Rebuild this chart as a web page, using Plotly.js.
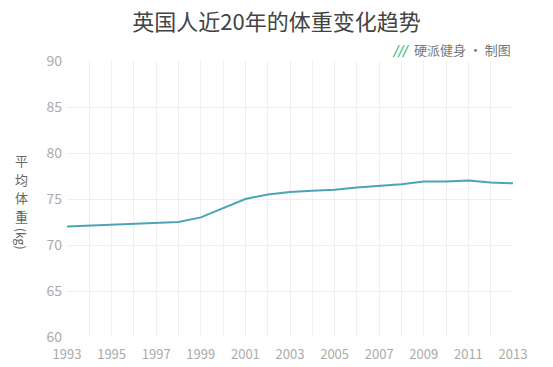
<!DOCTYPE html>
<html><head><meta charset="utf-8">
<script src="https://cdn.plot.ly/plotly-3.0.1.min.js"></script>
<style>html,body{margin:0;padding:0;background:#fff}#c{width:553px;height:367px}</style>
</head><body><div id="c"></div>
<script>
const years = [1993,1994,1995,1996,1997,1998,1999,2000,2001,2002,2003,2004,2005,2006,2007,2008,2009,2010,2011,2012,2013];
const weights = [72.0,72.1,72.2,72.3,72.4,72.5,73.0,74.0,75.0,75.5,75.75,75.9,76.0,76.25,76.45,76.6,76.9,76.9,77.0,76.8,76.7];
const tickYears = [1993,1995,1997,1999,2001,2003,2005,2007,2009,2011,2013];
const titleText = '英国人近20年的体重变化趋势';
const sourceText = '硬派健身 · 制图';
const yTitleChars = ['平','均','体','重'];
const yTitleUnit = '(kg)';
const F = '"Noto Sans CJK SC", "Noto Sans", sans-serif';

const yCharPos = [0.64, 0.572, 0.504, 0.436];
const anns = [
  {text: sourceText, xref: 'paper', yref: 'paper', x: 1, y: 1.04, xanchor: 'right', yanchor: 'middle',
   showarrow: false, font: {family: F, size: 13, color: '#777'}},
  {text: '<b><i>///</i></b>', xref: 'paper', yref: 'paper', x: 0.772, y: 1.04, xanchor: 'right', yanchor: 'middle',
   showarrow: false, font: {family: F, size: 12, color: '#2eb872'}},
  {text: yTitleUnit, textangle: 90, xref: 'paper', yref: 'paper', x: -0.101, y: 0.355, xanchor: 'center', yanchor: 'middle',
   showarrow: false, font: {family: F, size: 12, color: '#666'}}
];
yTitleChars.forEach((ch, i) => anns.push({text: ch, xref: 'paper', yref: 'paper', x: -0.101, y: yCharPos[i],
  xanchor: 'center', yanchor: 'middle', showarrow: false, font: {family: F, size: 13, color: '#666'}}));

Plotly.newPlot('c', [{
  x: years, y: weights, type: 'scatter', mode: 'lines',
  line: {color: '#4aa6b6', width: 2}, hoverinfo: 'skip'
}], {
  width: 553, height: 367,
  margin: {l: 67, r: 40, t: 61, b: 30},
  paper_bgcolor: '#fff', plot_bgcolor: '#fff',
  showlegend: false,
  font: {family: F, color: '#aaa'},
  title: {text: titleText, x: 0.5, xanchor: 'center', y: 0.94, yanchor: 'middle',
          font: {family: F, size: 22, color: '#444'}},
  xaxis: {range: [1993, 2013], tickvals: tickYears, ticktext: tickYears.map(String),
          showgrid: true, gridcolor: '#efefef', gridwidth: 1,
          zeroline: false, showline: false, ticks: '',
          tickfont: {family: F, size: 13, color: '#aaa'}, ticklabelstandoff: 8,
          minor: {dtick: 1, showgrid: true, gridcolor: '#efefef', tick0: 1993}},
  yaxis: {range: [60, 90], dtick: 5, showgrid: true, gridcolor: '#efefef',
          zeroline: false, showline: false, ticks: '',
          tickfont: {family: F, size: 14, color: '#aaa'}, ticklabelstandoff: 4},
  annotations: anns
}, {displayModeBar: false, staticPlot: true});
</script></body></html>
